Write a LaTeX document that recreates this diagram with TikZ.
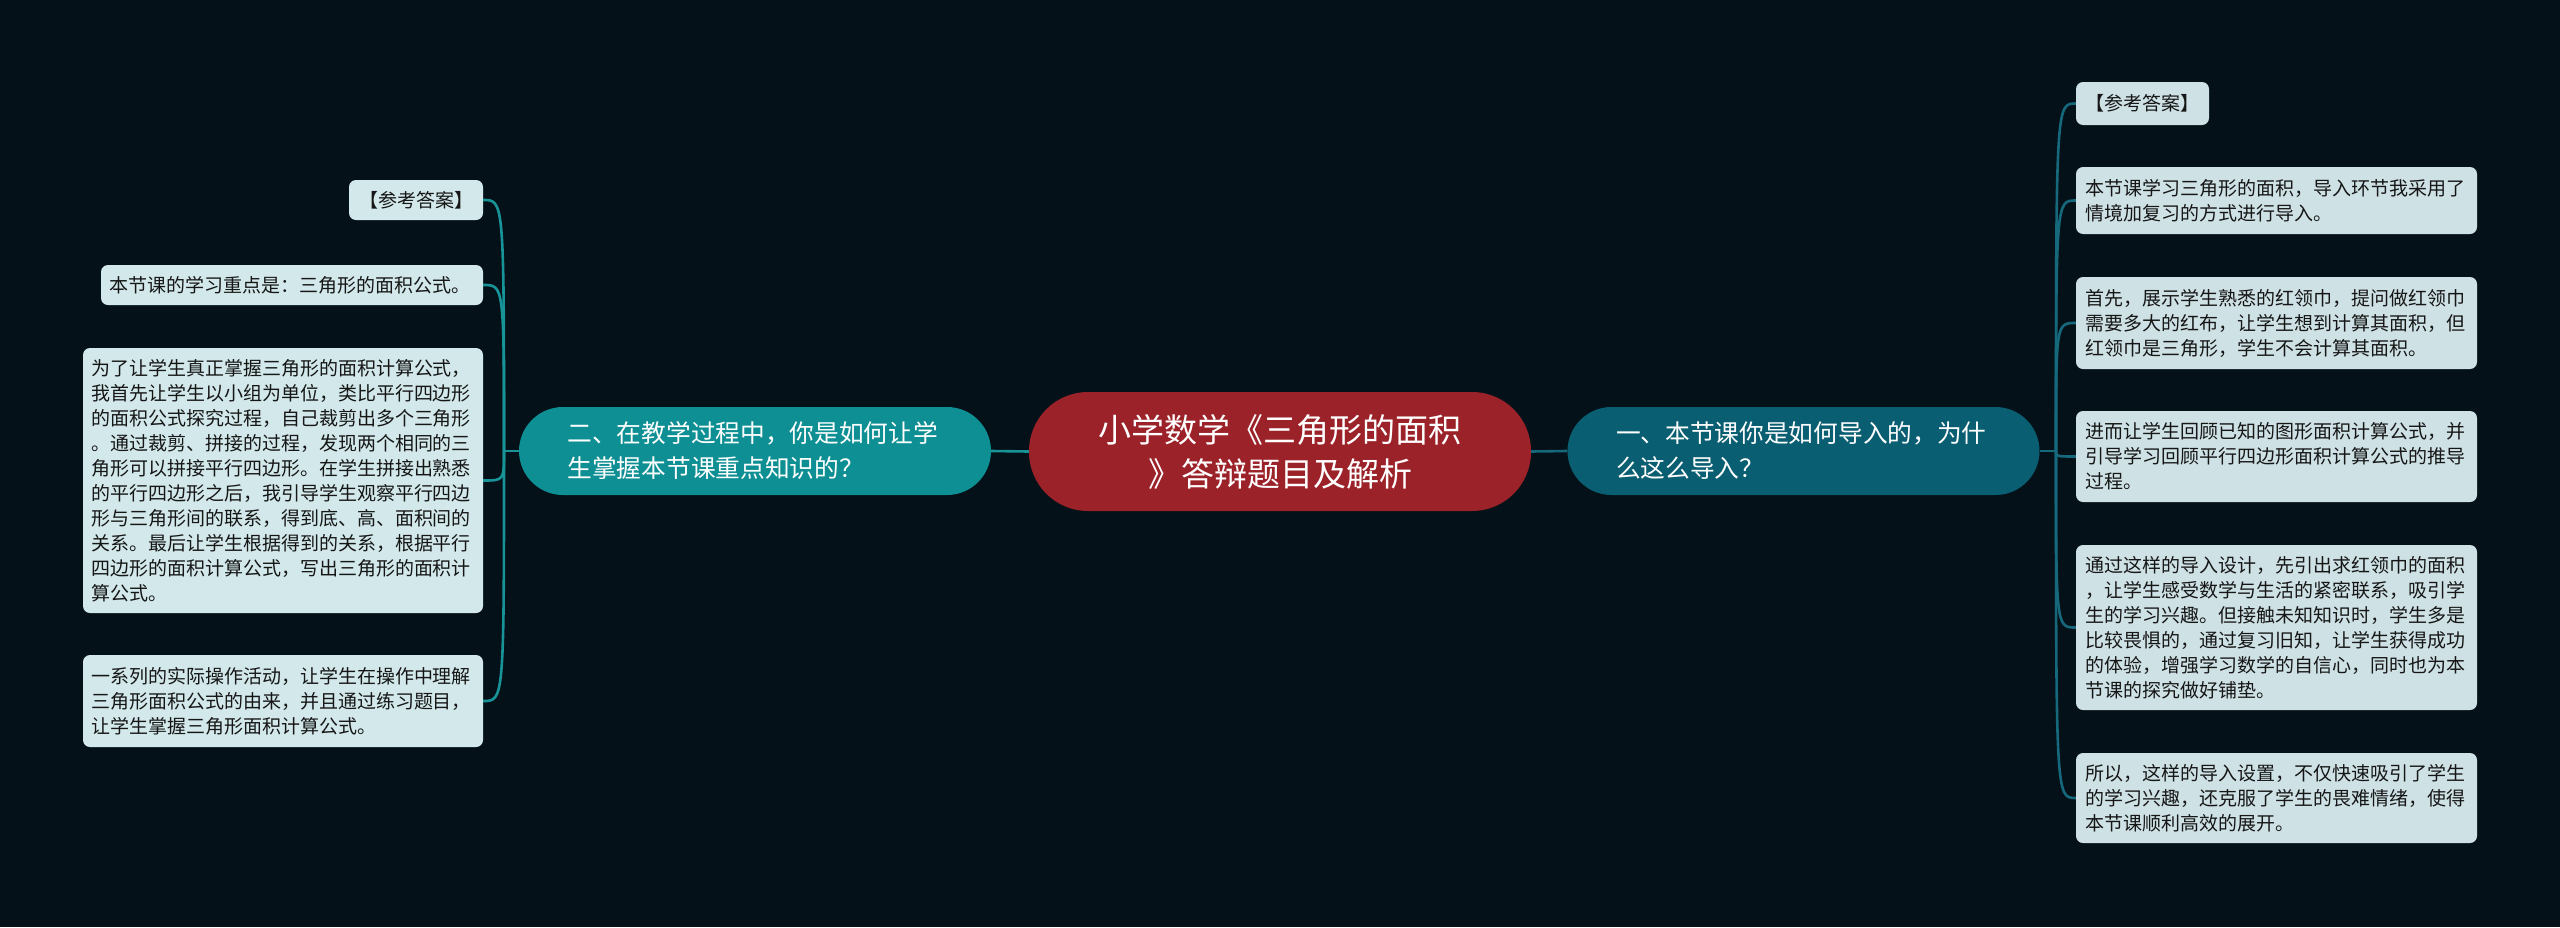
\documentclass[tikz,border=0pt]{standalone}
\usepackage{fontspec}
\newfontfamily\cjk{Noto Sans CJK SC}
\definecolor{bg}{RGB}{4,17,24}
\definecolor{centerred}{RGB}{155,34,40}
\definecolor{lmainc}{RGB}{14,143,148}
\definecolor{rmainc}{RGB}{10,94,114}
\definecolor{lleaffill}{RGB}{210,232,234}
\definecolor{rleaffill}{RGB}{206,225,229}
\definecolor{leaftext}{RGB}{22,22,22}
\definecolor{lline}{RGB}{24,148,152}
\definecolor{rline}{RGB}{22,104,124}
\begin{document}
\begin{tikzpicture}[x=1pt,y=-1pt,
  leaf/.style={draw=none, rounded corners=7pt, inner xsep=9pt, inner ysep=2pt, align=left,
    font=\cjk\fontsize{19pt}{25pt}\selectfont, text=leaftext},
  lleaf/.style={leaf, fill=lleaffill},
  rleaf/.style={leaf, fill=rleaffill},
  mainbox/.style={draw=none, rounded corners=44pt, inner xsep=48.5pt, inner ysep=2pt, text width=375pt,
    minimum height=88pt, align=left, text=white, font=\cjk\fontsize{24.7pt}{35pt}\selectfont},
  centerbox/.style={draw=none, fill=centerred, rounded corners=59pt, minimum width=502pt, minimum height=119pt,
    align=center, text=white, font=\cjk\fontsize{33pt}{44pt}\selectfont},
  lconn/.style={draw=lline, line width=2.6pt},
  rconn/.style={draw=rline, line width=2.6pt}]
\useasboundingbox (0,0) rectangle (2560,927);
\fill[bg] (0,0) rectangle (2560,927);

% main nodes
\node[centerbox] (c) at (1280,451.5) {小学数学《三角形的面积\\》答辩题目及解析};
\node[mainbox, fill=lmainc] (lm) at (755,451) {二、在教学过程中，你是如何让学\\生掌握本节课重点知识的？};
\node[mainbox, fill=rmainc] (rm) at (1803.5,451) {一、本节课你是如何导入的，为什\\么这么导入？};

% left leaves
\node[lleaf, text width=120pt, inner xsep=7pt, minimum height=40pt, align=center] (l1) at (416,200) {【参考答案】};
\node[lleaf, text width=366pt, inner xsep=8pt, minimum height=40pt] (l2) at (292,285) {本节课的学习重点是：三角形的面积公式。};
\node[lleaf, text width=384pt, inner xsep=8pt, minimum height=265pt] (l3) at (283,480.5) {为了让学生真正掌握三角形的面积计算公式，\\我首先让学生以小组为单位，类比平行四边形\\的面积公式探究过程，自己裁剪出多个三角形\\。通过裁剪、拼接的过程，发现两个相同的三\\角形可以拼接平行四边形。在学生拼接出熟悉\\的平行四边形之后，我引导学生观察平行四边\\形与三角形间的联系，得到底、高、面积间的\\关系。最后让学生根据得到的关系，根据平行\\四边形的面积计算公式，写出三角形的面积计\\算公式。};
\node[lleaf, text width=384pt, inner xsep=8pt, minimum height=92pt] (l4) at (283,701) {一系列的实际操作活动，让学生在操作中理解\\三角形面积公式的由来，并且通过练习题目，\\让学生掌握三角形面积计算公式。};

% right leaves
\node[rleaf, text width=120pt, inner xsep=6.5pt, minimum height=43pt, align=center] (r1) at (2142.5,103.5) {【参考答案】};
\node[rleaf, text width=383pt, minimum height=67pt] (r2) at (2276.5,200.5) {本节课学习三角形的面积，导入环节我采用了\\情境加复习的方式进行导入。};
\node[rleaf, text width=383pt, minimum height=92pt] (r3) at (2276.5,323) {首先，展示学生熟悉的红领巾，提问做红领巾\\需要多大的红布，让学生想到计算其面积，但\\红领巾是三角形，学生不会计算其面积。};
\node[rleaf, text width=383pt, minimum height=91pt] (r4) at (2276.5,456.5) {进而让学生回顾已知的图形面积计算公式，并\\引导学习回顾平行四边形面积计算公式的推导\\过程。};
\node[rleaf, text width=383pt, minimum height=165pt] (r5) at (2276.5,627.5) {通过这样的导入设计，先引出求红领巾的面积\\，让学生感受数学与生活的紧密联系，吸引学\\生的学习兴趣。但接触未知知识时，学生多是\\比较畏惧的，通过复习旧知，让学生获得成功\\的体验，增强学习数学的自信心，同时也为本\\节课的探究做好铺垫。};
\node[rleaf, text width=383pt, minimum height=90pt] (r6) at (2276.5,798) {所以，这样的导入设置，不仅快速吸引了学生\\的学习兴趣，还克服了学生的畏难情绪，使得\\本节课顺利高效的展开。};

% connectors centre - main
\draw[lconn] (c.west) -- (lm.east);
\draw[rconn] (c.east) -- (rm.west);

% left branch
\coordinate (lj) at (504,451);
\draw[lconn] (lm.west) -- (lj);
\foreach \n in {l1,l2,l3,l4}{
  \draw[lconn] (lj) .. controls (lj |- \n.east) and (lj |- \n.east) .. (\n.east);
}

% right branch
\coordinate (rj) at (2056,451);
\draw[rconn] (rm.east) -- (rj);
\foreach \n in {r1,r2,r3,r4,r5,r6}{
  \draw[rconn] (rj) .. controls (rj |- \n.west) and (rj |- \n.west) .. (\n.west);
}
\end{tikzpicture}
\end{document}
